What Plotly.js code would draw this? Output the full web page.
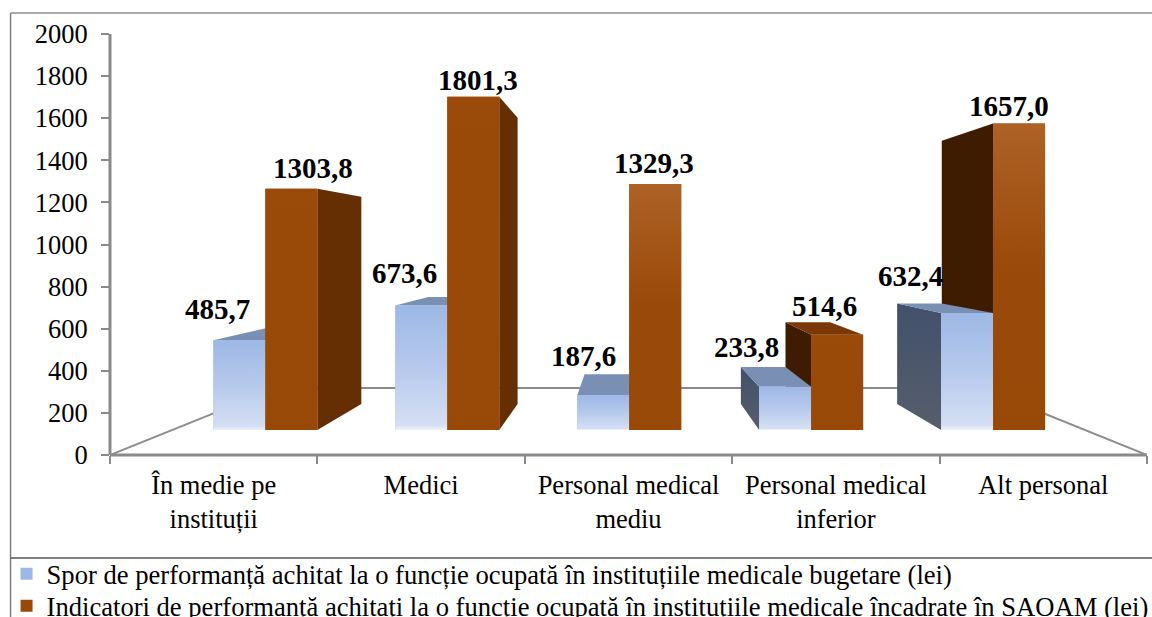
<!DOCTYPE html>
<html><head><meta charset="utf-8">
<script src="https://cdn.plot.ly/plotly-3.0.1.min.js"></script>
<style>html,body{margin:0;padding:0;background:#fff;overflow:hidden}</style>
</head><body><div id="chart" style="width:1152px;height:617px"></div>
<script>
// ---- data ----
const categories = ['În medie pe<br>instituții','Medici','Personal medical<br>mediu','Personal medical<br>inferior','Alt personal'];
const seriesNames = ['Spor de performanță achitat la o funcție ocupată în instituțiile medicale bugetare (lei)',
                     'Indicatori de performanță achitați la o funcție ocupată în instituțiile medicale încadrate în SAOAM (lei)'];
const sporValues = [485.7, 673.6, 187.6, 233.8, 632.4];
const indicatorValues = [1303.8, 1801.3, 1329.3, 514.6, 1657.0];
const yTicks = [0,200,400,600,800,1000,1200,1400,1600,1800,2000];

// ---- label nudges (px) ----
const sporShift = [[-22,31],[-17,32],[-20,39],[-39,40],[-57,37]];
const indicatorShift = [[22,21],[5,17],[-1,21],[-13,29],[-10,17]];

// ---- layout geometry ----
const W=1152,H=617,L=109.5,R=1147,T=34,B=455;
const px2paperX=p=>(p-L)/(R-L), px2paperY=p=>(B-p)/(B-T);
const font='"Liberation Serif","Times New Roman",serif';
// bar plane: hidden overlay axes
const barRangeX=[-0.854,4.846], barRangeY=[-135.1,2140.5];
const barW=0.2857, VX=2, VY=995, DEPTH=0.141, FLOOR=0.32;
const back=(x,y,k)=>[x+k*(VX-x), y+k*(VY-y)];
const ORANGE='#984807', BLUE='#9DB8E6';
const cs=(a,b)=>[[0,a],[1,b]];

function poly(pts,fill,grad,z){
  const t={type:'scatter',mode:'lines',xaxis:'x2',yaxis:'y2',x:pts.map(p=>p[0]).concat(pts[0][0]),y:pts.map(p=>p[1]).concat(pts[0][1]),
    fill:'toself',line:{width:0},showlegend:false,hoverinfo:'skip',zorder:z};
  if(grad){
    const ys=pts.map(p=>p[1]);
    t.fillgradient={type:'vertical',start:Math.min(...ys),stop:Math.max(...ys),colorscale:grad};
    t.fillcolor=fill;
  } else t.fillcolor=fill;
  return t;
}
function sideFaces(x0,x1,v,sideL,sideR,top){
  const out=[];
  if(x1<VX){const a=back(x1,v,DEPTH),b=back(x1,0,DEPTH);out.push(poly([[x1,0],[x1,v],a,b],sideR[0],sideR[1],0));}
  if(x0>VX){const a=back(x0,v,DEPTH),b=back(x0,0,DEPTH);out.push(poly([[x0,0],[x0,v],a,b],sideL[0],sideL[1],0));}
  if(v<VY){out.push(poly([[x0,v],[x1,v],back(x1,v,DEPTH),back(x0,v,DEPTH)],top,null,0));}
  return out;
}
const traces=[];
// category axis carrier
traces.push({type:'scatter',mode:'none',x:categories,y:categories.map(()=>0),showlegend:false,hoverinfo:'skip'});
// real bars
traces.push({type:'bar',name:seriesNames[0],x:[0,1,2,3,4],y:sporValues,xaxis:'x2',yaxis:'y2',marker:{color:BLUE},zorder:1,hoverinfo:'skip',legend:'legend'});
traces.push({type:'bar',name:seriesNames[1],x:[0,1,2,3,4],y:indicatorValues,xaxis:'x2',yaxis:'y2',marker:{color:ORANGE},zorder:1,hoverinfo:'skip',legend:'legend2'});
// orange sides behind blue sides
indicatorValues.forEach((v,i)=>{traces.push(...sideFaces(i,i+barW,v,['#3D1C01',null],['#652F03',null],'#7A3806'));});
sporValues.forEach((v,i)=>{traces.push(...sideFaces(i-barW,i,v,['#445069',cs('#565E6C','#42506B')],['#44506A',null],'#7A8FB4'));});
// front-face shading
sporValues.forEach((v,i)=>{
  const g=[[0,'#EEF2FA'],[0.04,'#D5DFF3'],[0.5,'#B6C9EC'],[1,'#9DB8E6']];
  traces.push(poly([[i-barW,0],[i,0],[i,v],[i-barW,v]],BLUE,g,2));
});
indicatorValues.forEach((v,i)=>{
  const g=(i===2||i===4)?[[0,'#984807'],[0.5,'#994909'],[1,'#AE6226']]:cs('#984807','#9A4A09');
  traces.push(poly([[i,0],[i+barW,0],[i+barW,v],[i,v]],ORANGE,g,2));
});

const fmt=v=>v.toFixed(1).replace('.',',');
const ann=[];
sporValues.forEach((v,i)=>ann.push({xref:'x2',yref:'y2',x:i-barW/2,y:v,xshift:sporShift[i][0],yshift:sporShift[i][1],text:fmt(v)}));
indicatorValues.forEach((v,i)=>ann.push({xref:'x2',yref:'y2',x:i+barW/2,y:v,xshift:indicatorShift[i][0],yshift:indicatorShift[i][1],text:fmt(v)}));
ann.forEach(a=>{a.showarrow=false;a.xanchor='center';a.yanchor='middle';a.font={family:font,size:29,color:'#000'};a.text='<b>'+a.text+'</b>';});

// floor outline through the bar scale
const fl=barRangeX[0],fr=barRangeX[1],fy=barRangeY[0];
const bl=back(fl,fy,FLOOR),br=back(fr,fy,FLOOR);
const seg=(a,b)=>({type:'line',layer:'below',xref:'x2',yref:'y2',x0:a[0],y0:a[1],x1:b[0],y1:b[1],line:{color:'#8C8C8C',width:2}});
const AXC='#8A8A8A';
const shapes=[seg([fl,fy],bl),seg(bl,br),seg(br,[fr,fy]),
 {type:'line',xref:'paper',yref:'paper',x0:0,x1:0,y0:0,y1:1,line:{color:AXC,width:3}},
 {type:'line',xref:'paper',yref:'paper',x0:0,x1:1,y0:0,y1:0,line:{color:AXC,width:3}},
 {type:'line',xref:'paper',yref:'paper',x0:px2paperX(10),x1:px2paperX(10),y0:px2paperY(13),y1:px2paperY(617),line:{color:'#7F7F7F',width:1.5}},
 {type:'line',xref:'paper',yref:'paper',x0:px2paperX(10),x1:px2paperX(1152),y0:px2paperY(13),y1:px2paperY(13),line:{color:'#8C8C8C',width:1.5}},
 {type:'line',xref:'paper',yref:'paper',x0:px2paperX(10),x1:px2paperX(1152),y0:px2paperY(558),y1:px2paperY(558),line:{color:'#555555',width:1.5}}
];
const legendBase={x:px2paperX(6),xanchor:'left',yanchor:'top',font:{family:font,size:26.6,color:'#000'},bgcolor:'rgba(0,0,0,0)',borderwidth:0};

const layout={width:W,height:H,paper_bgcolor:'#fff',plot_bgcolor:'#fff',
 margin:{l:L,r:W-R,t:T,b:H-B,pad:0,autoexpand:false},
 font:{family:font,color:'#000'},
 barmode:'group',bargap:0.4286,bargroupgap:0,
 xaxis:{type:'category',categoryorder:'array',categoryarray:categories,range:[-0.5,4.5],tickson:'boundaries',ticks:'outside',ticklen:8,tickwidth:2,tickcolor:AXC,
   showline:false,showgrid:false,zeroline:false,tickfont:{family:font,size:26.5,color:'#000'},automargin:false,tickangle:0,ticklabelstandoff:11},
 yaxis:{range:[0,2000],tickvals:yTicks,ticktext:yTicks.map(String),ticks:'outside',ticklen:8,tickwidth:2,tickcolor:AXC,
   showline:false,showgrid:false,zeroline:false,tickfont:{family:font,size:26.5,color:'#000'},automargin:false,ticklabelstandoff:8},
 xaxis2:{overlaying:'x',anchor:'y2',range:barRangeX,visible:false,type:'linear'},
 yaxis2:{overlaying:'y',anchor:'x2',range:barRangeY,visible:false},
 legend:Object.assign({y:px2paperY(550)},legendBase),
 legend2:Object.assign({y:px2paperY(582)},legendBase),
 showlegend:true,annotations:ann,shapes:shapes};
Plotly.newPlot('chart',traces,layout,{displayModeBar:false,staticPlot:true});
</script></body></html>
